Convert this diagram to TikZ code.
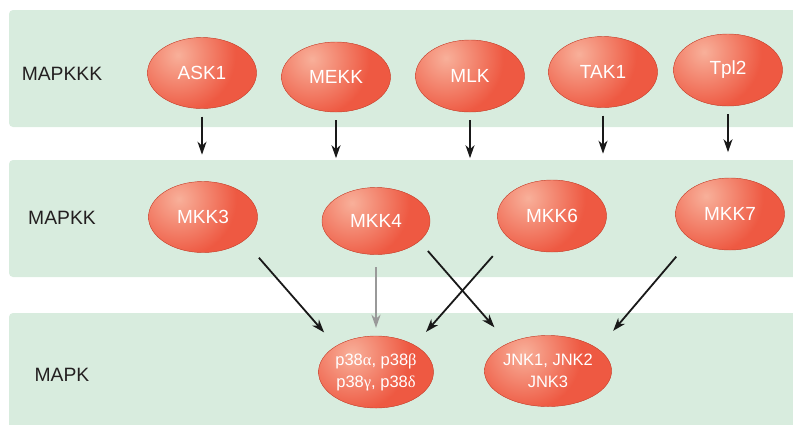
\documentclass[tikz,border=0pt]{standalone}
\usepackage{fontspec}
\setmainfont{Liberation Sans}
\newfontfamily\greekfont{Liberation Serif}
\newcommand{\gk}[1]{{\greekfont #1}}
\usetikzlibrary{arrows.meta,shapes.geometric}
\definecolor{bandgreen}{RGB}{216,236,222}
\definecolor{enzred}{RGB}{238,89,66}
\definecolor{enzlight}{RGB}{248,176,154}
\definecolor{enzline}{RGB}{196,72,52}
\definecolor{labelink}{RGB}{35,31,32}
\pgfdeclareradialshading{enzshade}{\pgfpointorigin}{color(0bp)=(enzlight); color(8bp)=(enzred); color(50bp)=(enzred)}

\begin{document}
\begin{tikzpicture}[x=1pt, y=-1pt, >={Stealth[length=13pt,width=9pt,inset=4pt]},
    band/.style={fill=bandgreen, rounded corners=4pt},
    level/.style={text=labelink, font=\fontsize{19.3}{22}\selectfont},
    enzyme/.style={ellipse, draw=enzline, line width=0.4pt, fill=enzred, text=white,
      inner sep=0pt, minimum width=109pt, minimum height=71pt, align=center,
      font=\fontsize{19}{22}\selectfont,
      path picture={\shade[shading=enzshade]
        ([xshift=-24pt,yshift=18pt]path picture bounding box.center) circle (180pt);}},
    arr/.style={->, line width=1.8pt, black!90},
    grayarr/.style={->, line width=1.8pt, gray!80}]
    \clip (0,0) rectangle (793,424);
    \fill[band] (9,10) rectangle (820,127);
    \fill[band] (9,160) rectangle (820,277);
    \fill[band] (9,313) rectangle (820,450);

    \node[level] (mapkkk) at (62,74) {MAPKKK};
    \node[level] (mapkk) at (62,218) {MAPKK};
    \node[level] (mapk) at (62,375) {MAPK};

    \node[enzyme] (ask1) at (202,73) {ASK1};
    \node[enzyme,minimum height=70pt] (mekk) at (336,77) {MEKK};
    \node[enzyme,minimum height=72pt] (mlk) at (470,76) {MLK};
    \node[enzyme] (tak1) at (603,72) {TAK1};
    \node[enzyme,minimum height=72pt] (tpl2) at (728,70) {Tpl2};

    \node[enzyme] (mkk3) at (203,217) {MKK3};
    \node[enzyme,minimum width=108pt,minimum height=67pt] (mkk4) at (376,221) {MKK4};
    \node[enzyme,minimum height=72pt] (mkk6) at (552,216) {MKK6};
    \node[enzyme,minimum height=72pt] (mkk7) at (730,214) {MKK7};

    \node[enzyme,minimum height=72pt,font=\fontsize{16.5}{22}\selectfont] (p38) at (376,372)
      {p38\gk{α}, p38\gk{β}\\p38\gk{γ}, p38\gk{δ}};
    \node[enzyme,font=\fontsize{16.5}{22}\selectfont] (jnk) at (548,371)
      {JNK1, JNK2\\JNK3};

    \foreach \n in {ask1,mekk,mlk,tak1,tpl2} {
      \coordinate (\n-tip) at ([yshift=-46pt]\n.south);
      \draw[arr, shorten <=8pt] (\n.south) -- (\n-tip);
    }

    \draw[arr, shorten <=22.7pt, shorten >=18pt] (mkk3.-30) -- (p38.147);
    \draw[grayarr, shorten <=12.5pt, shorten >=8pt] (mkk4.south) -- (p38.north);
    \draw[arr, shorten <=24pt, shorten >=17.5pt] (mkk6.-153) -- (p38.35);
    \draw[arr, shorten <=13pt, shorten >=21pt] (mkk4.-25) -- (jnk.145);
    \draw[arr, shorten <=22.7pt, shorten >=23.6pt] (mkk7.-147) -- (jnk.24.5);
  \end{tikzpicture}
\end{document}
